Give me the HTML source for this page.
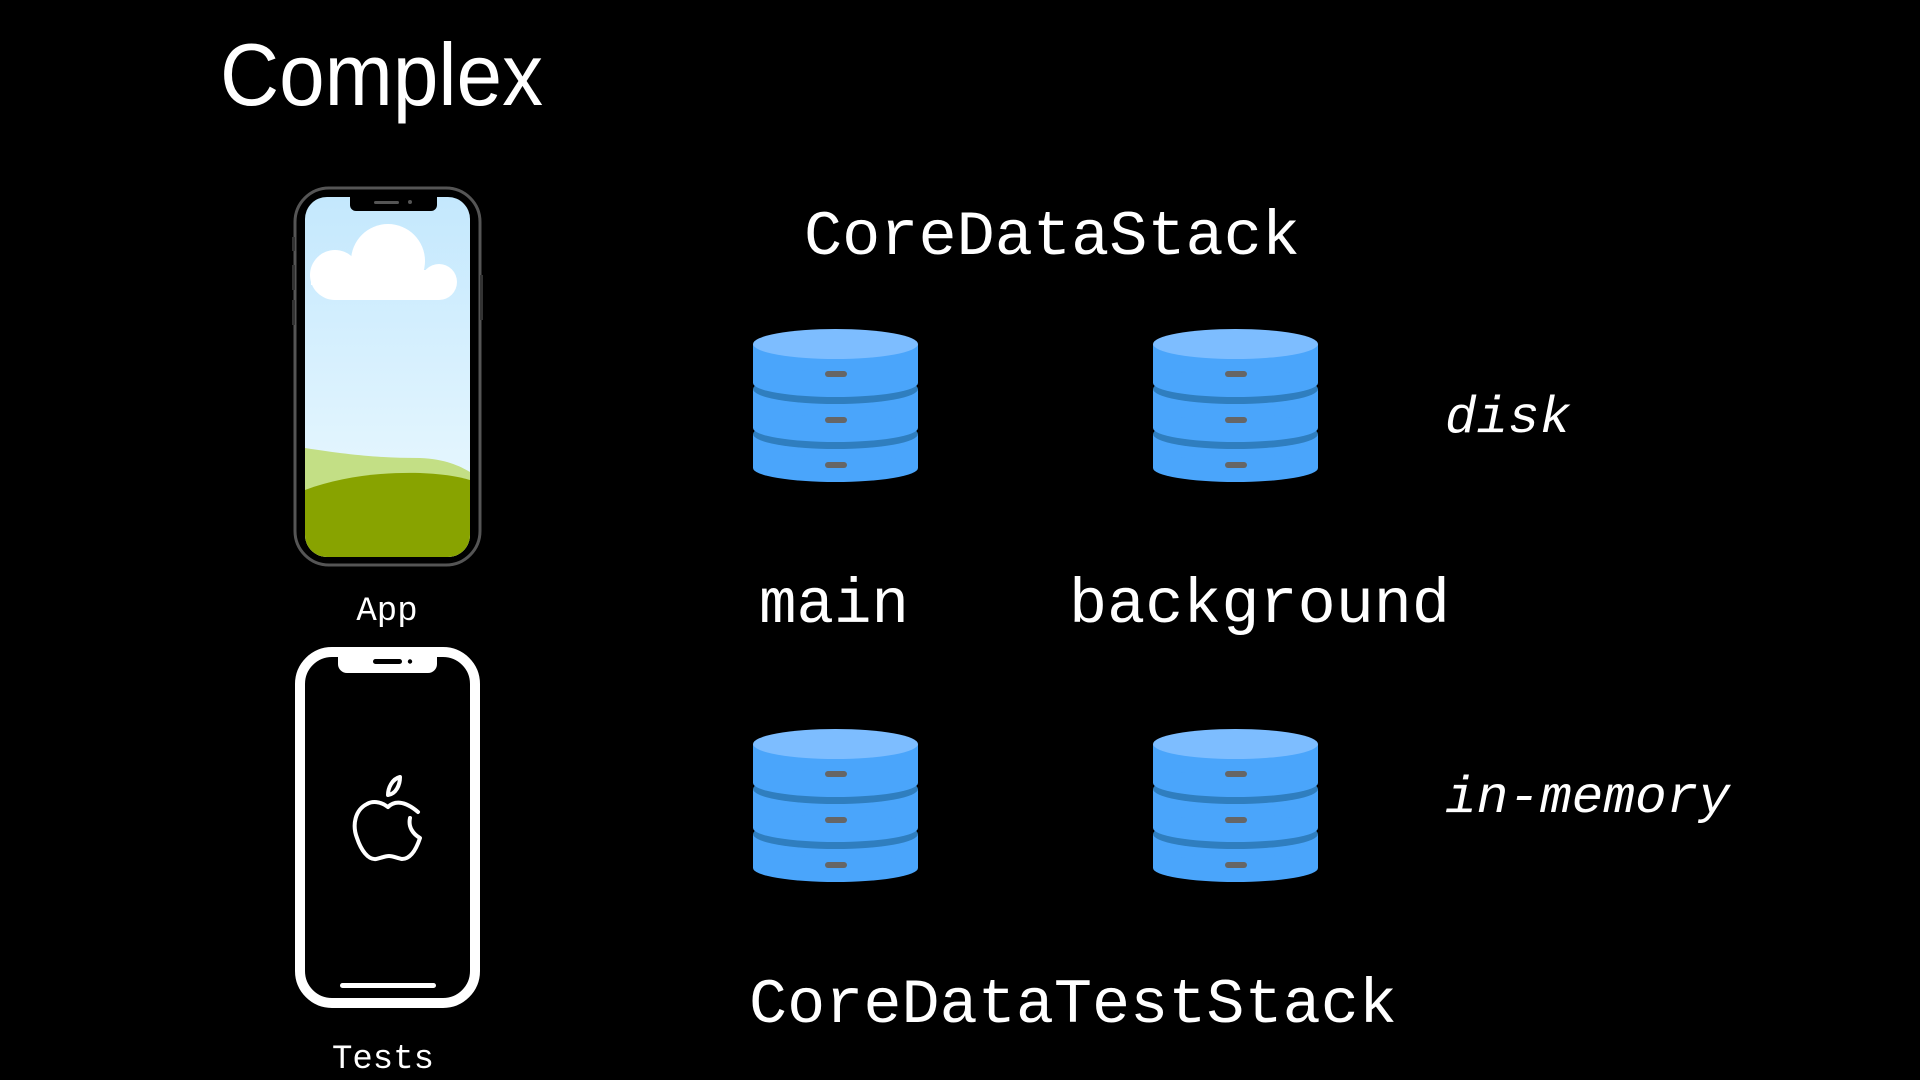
<!DOCTYPE html>
<html><head><meta charset="utf-8"><style>
html,body{margin:0;padding:0;background:#000;width:1920px;height:1080px;overflow:hidden}
</style></head><body>
<svg width="1920" height="1080" viewBox="0 0 1920 1080" xmlns="http://www.w3.org/2000/svg">
<defs>
<linearGradient id="sky" x1="0" y1="0" x2="0" y2="1">
<stop offset="0" stop-color="#c4e8fd"/><stop offset="1" stop-color="#eefaff"/>
</linearGradient>
<clipPath id="scr"><rect x="305" y="197" width="165" height="360" rx="22"/></clipPath>
<g id="db">
<rect x="0" y="105" width="165" height="34" fill="#4aa5fb"/>
<ellipse cx="82.5" cy="139" rx="82.5" ry="14" fill="#4aa5fb"/>
<ellipse cx="82.5" cy="105" rx="82.5" ry="15" fill="#2f7ebf"/>
<rect x="72" y="133" width="22" height="6" rx="3" fill="#666"/>
<rect x="0" y="60" width="165" height="39" fill="#4aa5fb"/>
<ellipse cx="82.5" cy="99" rx="82.5" ry="14" fill="#4aa5fb"/>
<ellipse cx="82.5" cy="60" rx="82.5" ry="15" fill="#2f7ebf"/>
<rect x="72" y="88" width="22" height="6" rx="3" fill="#666"/>
<rect x="0" y="15" width="165" height="39" fill="#4aa5fb"/>
<ellipse cx="82.5" cy="54" rx="82.5" ry="14" fill="#4aa5fb"/>
<ellipse cx="82.5" cy="15" rx="82.5" ry="15" fill="#7dbdff"/>
<rect x="72" y="42" width="22" height="6" rx="3" fill="#666"/>
</g>
</defs>

<text x="220" y="105" font-family="Liberation Sans, sans-serif" font-size="88" fill="#fff" textLength="323" lengthAdjust="spacingAndGlyphs">Complex</text>

<!-- phone 1 -->
<rect x="295" y="188" width="185" height="377" rx="34" fill="#000" stroke="#555" stroke-width="3"/>
<rect x="292" y="237" width="3" height="14" fill="#333"/>
<rect x="292" y="265" width="3" height="25" fill="#333"/>
<rect x="292" y="300" width="3" height="25" fill="#333"/>
<rect x="480" y="275" width="3" height="45" fill="#333"/>
<g clip-path="url(#scr)">
<rect x="305" y="197" width="165" height="360" fill="url(#sky)"/>
<path d="M305 448 C350 455 380 458 420 458 C445 459 460 466 470 472 L470 560 L305 560Z" fill="#c3df85"/>
<path d="M305 490 C340 477 380 472 420 473 C445 474 460 477 470 480 L470 560 L305 560Z" fill="#88a300"/>
<g fill="#fff">
<circle cx="388" cy="261" r="37"/>
<circle cx="335" cy="275" r="25"/>
<circle cx="439" cy="282" r="18"/>
<rect x="335" y="270" width="104" height="30"/>
<rect x="311" y="275" width="30" height="10"/>
</g>
</g>
<path d="M350 197 L437 197 L437 205 a6 6 0 0 1 -6 6 L356 211 a6 6 0 0 1 -6 -6Z" fill="#000"/>
<rect x="374" y="201" width="25" height="3" rx="1.5" fill="#555"/>
<circle cx="410" cy="202" r="2" fill="#555"/>
<text x="387" y="620" font-family="Liberation Mono, monospace" font-size="34" fill="#fff" text-anchor="middle">App</text>

<!-- phone 2 -->
<rect x="300" y="652" width="175" height="351" rx="32" fill="none" stroke="#fff" stroke-width="10"/>
<path d="M338 652 L437 652 L437 664 a9 9 0 0 1 -9 9 L347 673 a9 9 0 0 1 -9 -9Z" fill="#fff"/>
<rect x="373" y="659" width="29" height="5" rx="2.5" fill="#000"/>
<circle cx="410" cy="661.5" r="2.2" fill="#000"/>
<rect x="340" y="983" width="96" height="5" rx="2.5" fill="#fff"/>
<g fill="none" stroke="#fff" stroke-width="4" stroke-linecap="round" stroke-linejoin="round">
<path d="M388 807 C380 801 372 801 367 804 C355 810 352 825 357 838 C361 850 368 860 376 859 C381 858 385 856 389 856 C393 856 397 858 402 859 C410 859 416 850 420 838 C413 834 408 827 410 818"/>
<path d="M388 807 C394 801 404 800 418 812"/>
<path d="M388 795 C388 788 392 779 400 777 C400 785 396 794 388 795Z"/>
</g>
<text x="383" y="1068" font-family="Liberation Mono, monospace" font-size="34" fill="#fff" text-anchor="middle">Tests</text>

<text x="804" y="254" font-family="Liberation Mono, monospace" font-size="63" fill="#fff" textLength="496" lengthAdjust="spacingAndGlyphs">CoreDataStack</text>
<use href="#db" x="753" y="329"/>
<use href="#db" x="1153" y="329"/>
<use href="#db" x="753" y="729"/>
<use href="#db" x="1153" y="729"/>
<text x="1445" y="432" font-family="Liberation Mono, monospace" font-style="italic" font-size="52" fill="#fff" textLength="126" lengthAdjust="spacingAndGlyphs">disk</text>
<text x="759" y="622" font-family="Liberation Mono, monospace" font-size="63" fill="#fff" textLength="150" lengthAdjust="spacingAndGlyphs">main</text>
<text x="1069" y="622" font-family="Liberation Mono, monospace" font-size="63" fill="#fff" textLength="381" lengthAdjust="spacingAndGlyphs">background</text>
<text x="1445" y="812" font-family="Liberation Mono, monospace" font-style="italic" font-size="52" fill="#fff" textLength="285" lengthAdjust="spacingAndGlyphs">in-memory</text>
<text x="749" y="1022" font-family="Liberation Mono, monospace" font-size="63" fill="#fff" textLength="648" lengthAdjust="spacingAndGlyphs">CoreDataTestStack</text>
</svg>
</body></html>
